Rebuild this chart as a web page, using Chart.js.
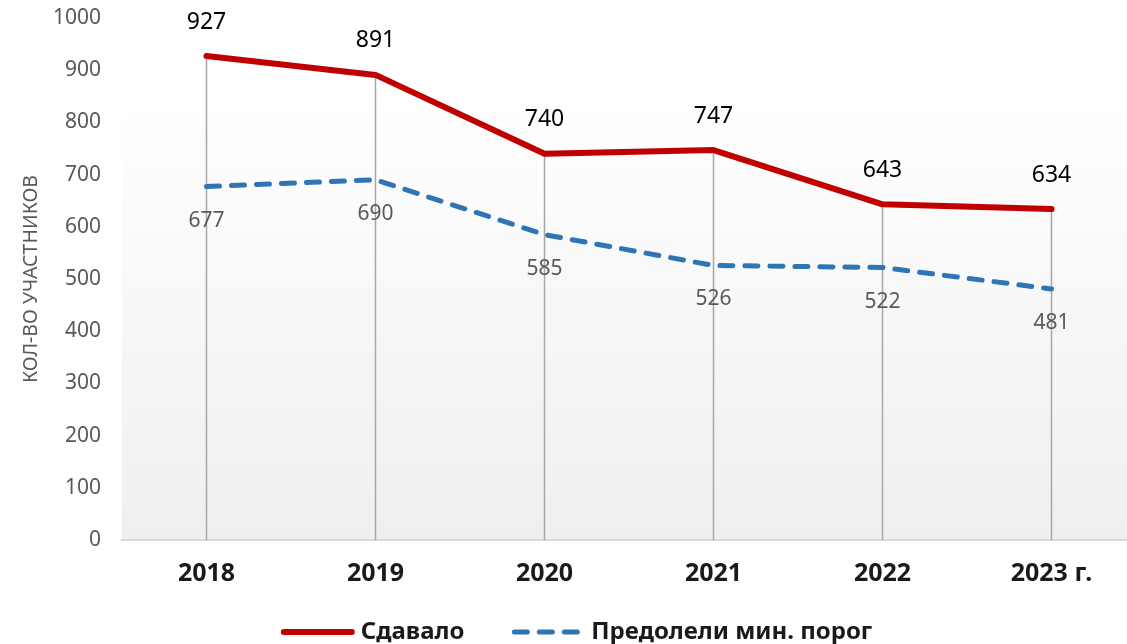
<!DOCTYPE html>
<html>
<head>
<meta charset="utf-8">
<script src="https://cdn.jsdelivr.net/npm/chart.js@4.4.1/dist/chart.umd.min.js"></script>
<style>
  html, body { margin: 0; padding: 0; background: #fff; overflow: hidden; }
  #wrap { width: 1140px; height: 644px; }
</style>
</head>
<body>
<div id="wrap"><canvas id="chart"></canvas></div>
<script>
const years = ['2018', '2019', '2020', '2021', '2022', '2023 г.'];
const took = [927, 891, 740, 747, 643, 634];
const passed = [677, 690, 585, 526, 522, 481];
const yTicks = [0, 100, 200, 300, 400, 500, 600, 700, 800, 900, 1000];

const FONT = "'Noto Sans', sans-serif";

// plot area: white at the top fading to light gray
const plotBackground = {
  id: 'plotBackground',
  beforeDraw(chart) {
    const { ctx, chartArea: a } = chart;
    const g = ctx.createLinearGradient(0, a.top, 0, a.bottom);
    g.addColorStop(0, '#ffffff');
    g.addColorStop(0.15, '#ffffff');
    g.addColorStop(1, '#efefef');
    ctx.save();
    ctx.fillStyle = g;
    ctx.fillRect(a.left, a.top, a.right - a.left, a.bottom - a.top);
    ctx.restore();
  }
};

// vertical drop lines from the upper series down to the axis
const dropLines = {
  id: 'dropLines',
  beforeDatasetsDraw(chart) {
    const { ctx, chartArea: a } = chart;
    const pts = chart.getDatasetMeta(0).data;
    ctx.save();
    ctx.strokeStyle = '#a6a6a6';
    ctx.lineWidth = 1.5;
    pts.forEach(p => {
      ctx.beginPath();
      ctx.moveTo(p.x, p.y);
      ctx.lineTo(p.x, a.bottom);
      ctx.stroke();
    });
    ctx.restore();
  }
};

const valueLabels = {
  id: 'valueLabels',
  afterDatasetsDraw(chart) {
    const { ctx } = chart;
    ctx.save();
    ctx.textAlign = 'center';
    ctx.textBaseline = 'middle';
    chart.data.datasets.forEach((ds, i) => {
      const meta = chart.getDatasetMeta(i);
      ctx.font = ds.labelFont;
      ctx.fillStyle = ds.labelColor;
      meta.data.forEach((p, j) => {
        ctx.fillText(String(ds.data[j]), p.x, p.y + ds.labelOffset);
      });
    });
    ctx.restore();
  }
};

// legend row under the axis, line samples taken from the datasets
const bottomLegend = {
  id: 'bottomLegend',
  afterDraw(chart) {
    const { ctx } = chart;
    const lineLen = 72, textGap = 7, itemGap = 48, y = 632;
    ctx.save();
    ctx.font = 'bold 24px ' + FONT;
    ctx.textBaseline = 'middle';
    const items = chart.data.datasets.map(ds => ({ ds, w: ctx.measureText(ds.label).width }));
    const total = items.reduce((s, it) => s + lineLen + textGap + it.w, 0) + itemGap * (items.length - 1);
    let x = chart.width / 2 + 7 - total / 2;
    items.forEach(({ ds, w }) => {
      ctx.strokeStyle = ds.borderColor;
      ctx.lineWidth = ds.borderWidth;
      ctx.lineCap = 'round';
      ctx.setLineDash(ds.borderDash || []);
      ctx.beginPath();
      ctx.moveTo(x + 2, y);
      ctx.lineTo(x + lineLen - 2, y);
      ctx.stroke();
      ctx.setLineDash([]);
      ctx.fillStyle = '#1a1a1a';
      ctx.fillText(ds.label, x + lineLen + textGap, y);
      x += lineLen + textGap + w + itemGap;
    });
    ctx.restore();
  }
};

new Chart(document.getElementById('chart'), {
  type: 'line',
  data: {
    labels: years,
    datasets: [
      {
        label: 'Сдавало',
        data: took,
        borderColor: '#c00000',
        backgroundColor: '#c00000',
        borderWidth: 6,
        borderCapStyle: 'round',
        borderJoinStyle: 'round',
        pointRadius: 0,
        tension: 0,
        labelFont: '23px ' + FONT,
        labelColor: '#000000',
        labelOffset: -34
      },
      {
        label: 'Предолели мин. порог',
        data: passed,
        borderColor: '#2e75b6',
        backgroundColor: '#2e75b6',
        borderWidth: 5,
        borderDash: [13, 12],
        borderCapStyle: 'round',
        pointRadius: 0,
        tension: 0,
        labelFont: '21px ' + FONT,
        labelColor: '#595959',
        labelOffset: 34
      }
    ]
  },
  options: {
    responsive: true,
    maintainAspectRatio: false,
    animation: false,
    layout: { padding: { top: 18, right: 4, left: 0, bottom: 55 } },
    plugins: {
      legend: { display: false },
      tooltip: { enabled: false }
    },
    scales: {
      x: {
        offset: true,
        afterFit(scale) { scale.height = 49; },
        grid: { display: false },
        border: { display: true, color: '#d9d9d9', width: 2 },
        ticks: {
          padding: 11,
          color: '#1a1a1a',
          font: { family: FONT, size: 25, weight: 'bold' }
        }
      },
      y: {
        min: 0,
        max: 1000,
        afterBuildTicks(scale) { scale.ticks = yTicks.map(v => ({ value: v })); },
        afterFit(scale) {
          scale.width = 122;
          scale.paddingTop = 0;
          scale.paddingBottom = 0;
        },
        grid: { display: false, drawTicks: false },
        border: { display: false },
        ticks: {
          padding: 21,
          color: '#595959',
          font: { family: FONT, size: 21 },
          callback: v => String(v)
        },
        title: {
          display: true,
          text: 'КОЛ-ВО УЧАСТНИКОВ',
          color: '#595959',
          padding: { top: 20, bottom: 0 },
          font: { family: FONT, size: 19.5 }
        }
      }
    }
  },
  plugins: [plotBackground, dropLines, valueLabels, bottomLegend]
});
</script>
</body>
</html>
